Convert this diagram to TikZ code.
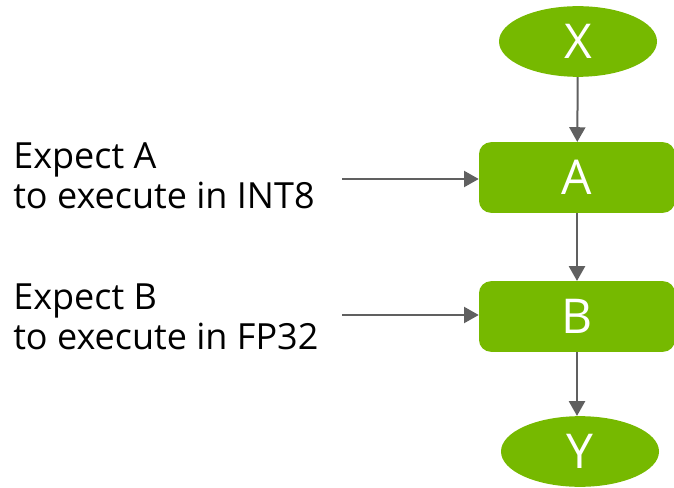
\documentclass[tikz,border=0pt]{standalone}
\usepackage{fontspec}
\setmainfont{Open Sans}
\usetikzlibrary{shapes.geometric,arrows.meta}
\definecolor{nvgreen}{HTML}{76B900}
\definecolor{linegray}{HTML}{606060}
\begin{document}
\begin{tikzpicture}[x=0.75pt,y=-0.75pt,
  io/.style={ellipse,fill=nvgreen,draw=none,minimum width=118.5pt,minimum height=53pt,inner sep=0pt,
    text=white,font=\fontsize{36}{36}\selectfont},
  layer/.style={rectangle,rounded corners=9pt,fill=nvgreen,draw=none,minimum width=147pt,minimum height=53pt,
    inner sep=0pt,text=white,font=\fontsize{36}{36}\selectfont},
  note/.style={align=left,inner sep=0pt,font=\fontsize{27}{30}\selectfont},
  flow/.style={draw=linegray,line width=1.5pt,-{Triangle[length=11pt,width=12pt]}}]
  \useasboundingbox (0,0) rectangle (674,488);
  \node[io]    (x) at (578,41.5)  {X};
  \node[layer] (a) at (577,177.5) {A};
  \node[layer] (b) at (577,316.5) {B};
  \node[io]    (y) at (580,451.5) {Y};
  \node[note,anchor=west] (na) at (13,176) {Expect A\\to execute in INT8};
  \node[note,anchor=west] (nb) at (13,317) {Expect B\\to execute in FP32};
  \coordinate (sa) at (342,179);
  \coordinate (sb) at (342,315);
  \draw[flow] (x) -- (a);
  \draw[flow] (a) -- (b);
  \draw[flow] (b.south) -- (y.north -| b.south);
  \draw[flow] (sa) -- (sa -| a.west);
  \draw[flow] (sb) -- (sb -| b.west);
\end{tikzpicture}
\end{document}
